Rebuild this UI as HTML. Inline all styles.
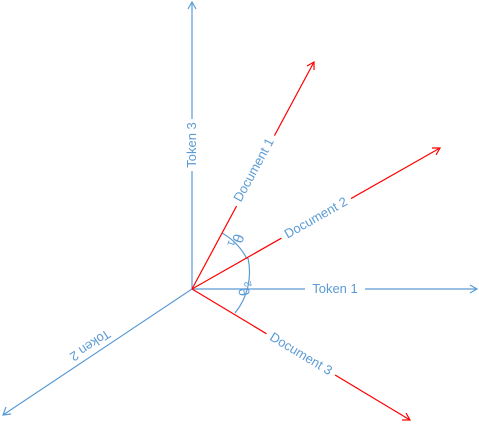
<!DOCTYPE html>
<html><head><meta charset="utf-8"><style>
html,body{margin:0;padding:0;background:#fff;}
svg{display:block;font-family:"Liberation Sans",sans-serif;}
text{fill:#5b9bd5;font-size:13px;}
</style></head><body>
<svg width="479" height="425" viewBox="0 0 479 425">
<g fill="none" stroke-width="1.2">
  <g stroke="#5b9bd5">
    <line x1="192" y1="289" x2="192" y2="2"/>
    <polyline points="188,9 192,2 196,9"/>
    <line x1="192" y1="289" x2="477" y2="289"/>
    <polyline points="470,285 477,289 470,293"/>
    <line x1="192" y1="289" x2="3" y2="415"/>
    <polyline points="6,407 3,415 11,414"/>
    <path d="M222,233 A63,63 0 0 1 247,259"/>
    <path d="M248,258 A65,65 0 0 1 235,313"/>
  </g>
  <g stroke="#ff0000">
    <line x1="192" y1="289" x2="314" y2="62"/>
    <polyline points="307,66 314,62 314,70"/>
    <line x1="192" y1="289" x2="440" y2="148"/>
    <polyline points="432,148 440,148 436,155"/>
    <line x1="192" y1="289" x2="410" y2="420"/>
    <polyline points="406,413 410,420 402,420"/>
  </g>
</g>
<g>
  <rect x="184" y="119" width="16" height="52" fill="#fff"/>
  <text transform="translate(196,145) rotate(-90)" text-anchor="middle">Token 3</text>
  <rect x="305" y="282" width="60" height="14" fill="#fff"/>
  <text x="335" y="293" text-anchor="middle">Token 1</text>
  <rect x="-30" y="-9" width="60" height="14" fill="#fff" transform="translate(90,345) rotate(146)"/>
  <text transform="translate(90,345) rotate(146)" text-anchor="middle" y="4">Token 2</text>
  <rect x="-40" y="-9" width="80" height="14" fill="#fff" transform="translate(254,170) rotate(-61.5)"/>
  <text transform="translate(254,170) rotate(-61.5)" text-anchor="middle" y="4">Document 1</text>
  <rect x="-40" y="-9" width="80" height="14" fill="#fff" transform="translate(316,218) rotate(-29.5)"/>
  <text transform="translate(316,218) rotate(-29.5)" text-anchor="middle" y="4">Document 2</text>
  <rect x="-40" y="-9" width="80" height="14" fill="#fff" transform="translate(301,354) rotate(31)"/>
  <text transform="translate(301,354) rotate(31)" text-anchor="middle" y="4">Document 3</text>
  <text transform="translate(237,241) rotate(110)" text-anchor="middle" y="5" style="font-size:15px">θ<tspan font-size="10" dy="3">1</tspan></text>
  <text transform="translate(244,289) rotate(-100)" text-anchor="middle" y="5" style="font-size:15px">θ<tspan font-size="10" dy="3">2</tspan></text>
</g>
</svg>
</body></html>
